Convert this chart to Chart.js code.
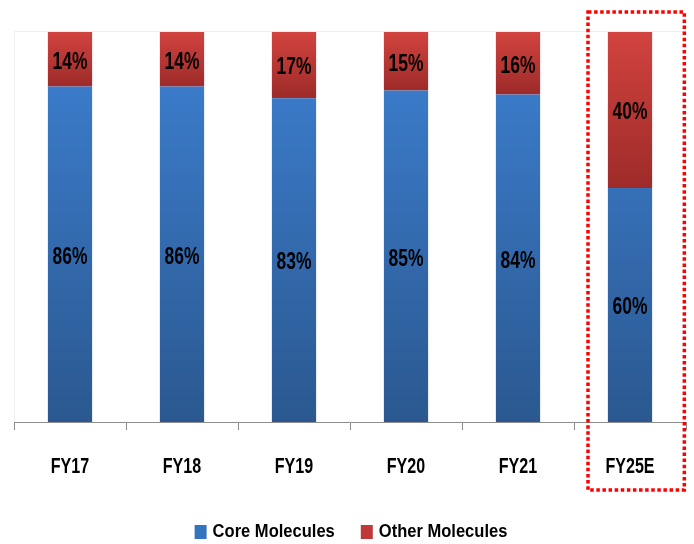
<!DOCTYPE html>
<html>
<head>
<meta charset="utf-8">
<script src="https://cdn.jsdelivr.net/npm/chart.js@4.4.1/dist/chart.umd.min.js"></script>
<style>
  html, body { margin: 0; padding: 0; background: #fff; }
  #wrap { width: 694px; height: 544px; }
</style>
</head>
<body>
<div id="wrap"><canvas id="molChart"></canvas></div>
<script>
// Share of revenue by molecule group, per fiscal year
const years = ['FY17', 'FY18', 'FY19', 'FY20', 'FY21', 'FY25E'];
const coreShare = [86, 86, 83, 85, 84, 60];
const otherShare = [14, 14, 17, 15, 16, 40];

const FONT = "'Liberation Sans', Arial, sans-serif";

// text squeezed horizontally, looks like a condensed face
function narrowText(ctx, text, x, y, font, sx, align) {
    ctx.save();
    ctx.font = font;
    ctx.fillStyle = '#000';
    ctx.textAlign = align || 'center';
    ctx.textBaseline = 'middle';
    ctx.translate(x, y);
    ctx.scale(sx, 1);
    ctx.fillText(text, 0, 0);
    ctx.restore();
}

function narrowWidth(ctx, text, font, sx) {
    ctx.save();
    ctx.font = font;
    const w = ctx.measureText(text).width * sx;
    ctx.restore();
    return w;
}

// vertical gradient for one segment of a stacked bar
function segGradient(ctx, top, bottom, light, dark) {
    const chart = ctx.chart;
    const yScale = chart.scales.y;
    if (!yScale) return light;
    const y0 = yScale.getPixelForValue(top);
    const y1 = yScale.getPixelForValue(bottom);
    if (!isFinite(y0) || !isFinite(y1) || y0 === y1) return light;
    const g = chart.ctx.createLinearGradient(0, y0, 0, y1);
    g.addColorStop(0, light);
    g.addColorStop(1, dark);
    return g;
}

// percentage labels in the middle of every segment
const segmentLabels = {
    id: 'segmentLabels',
    afterDatasetsDraw(chart) {
        chart.data.datasets.forEach((ds, i) => {
            chart.getDatasetMeta(i).data.forEach((bar, j) => {
                const mid = (bar.y + bar.base) / 2;
                narrowText(chart.ctx, ds.data[j] + '%', bar.x, mid + 3, 'bold 23px ' + FONT, 0.76);
            });
        });
    }
};

// category names under the axis
const yearLabels = {
    id: 'yearLabels',
    afterDraw(chart) {
        const x = chart.scales.x;
        years.forEach((yr, i) => {
            narrowText(chart.ctx, yr, x.getPixelForValue(i), chart.chartArea.bottom + 45, 'bold 22px ' + FONT, 0.73);
        });
    }
};

// legend row at the bottom
const bottomLegend = {
    id: 'bottomLegend',
    afterDraw(chart) {
        const ctx = chart.ctx;
        const font = 'bold 19px ' + FONT;
        const sx = 0.87;
        const cols = ['#3673be', '#c0393a'];
        const items = chart.data.datasets.map((ds, i) => ({
            text: ds.label,
            color: cols[i],
            w: narrowWidth(ctx, ds.label, font, sx)
        }));
        const box = 12, gap = 6, between = 26;
        let total = 0;
        items.forEach((it, i) => { total += box + gap + it.w + (i ? between : 0); });
        const a = chart.chartArea;
        let cx = (a.left + a.right) / 2 + 1 - total / 2;
        const cy = 532;
        items.forEach(it => {
            ctx.fillStyle = it.color;
            ctx.fillRect(cx, cy - 7, box, 14);
            cx += box + gap;
            narrowText(ctx, it.text, cx, cy, font, sx, 'left');
            cx += it.w + between;
        });
    }
};

// red dotted box around the estimate year
const estimateBox = {
    id: 'estimateBox',
    afterDraw(chart) {
        const x = chart.scales.x;
        const idx = years.length - 1;
        const cw = x.getPixelForValue(1) - x.getPixelForValue(0);
        const cx = x.getPixelForValue(idx);
        const a = chart.chartArea;
        const ctx = chart.ctx;
        ctx.save();
        ctx.strokeStyle = '#ff0000';
        ctx.lineWidth = 3.5;
        ctx.setLineDash([3.5, 2.6]);
        ctx.strokeRect(cx - cw * 0.375, a.top - 20, cw * 0.86, 478);
        ctx.restore();
    }
};

// faint frame around the plot area
const plotFrame = {
    id: 'plotFrame',
    beforeDatasetsDraw(chart) {
        const a = chart.chartArea;
        const ctx = chart.ctx;
        ctx.save();
        ctx.strokeStyle = '#eeeeee';
        ctx.lineWidth = 1;
        ctx.beginPath();
        ctx.moveTo(a.left + 0.5, a.bottom);
        ctx.lineTo(a.left + 0.5, a.top - 0.5);
        ctx.lineTo(a.right, a.top - 0.5);
        ctx.stroke();
        ctx.restore();
    }
};

new Chart(document.getElementById('molChart'), {
    type: 'bar',
    data: {
        labels: years,
        datasets: [
            {
                label: 'Core Molecules',
                data: coreShare,
                backgroundColor: c => segGradient(c, 100, 0, '#3d80d2', '#2b5890'),
                borderWidth: 0,
                barPercentage: 0.395,
                categoryPercentage: 1
            },
            {
                label: 'Other Molecules',
                data: otherShare,
                backgroundColor: c => {
                    const base = coreShare[c.dataIndex] || 0;
                    return segGradient(c, 100, base, '#d2433f', '#9d2b29');
                },
                borderWidth: 0,
                barPercentage: 0.395,
                categoryPercentage: 1
            }
        ]
    },
    options: {
        responsive: true,
        maintainAspectRatio: false,
        animation: false,
        layout: { padding: { left: 14, right: 8, top: 32, bottom: 114 } },
        plugins: {
            legend: { display: false },
            tooltip: { enabled: false }
        },
        scales: {
            x: {
                stacked: true,
                offset: true,
                border: { display: true, color: '#8c8c8c', width: 1 },
                grid: {
                    display: true,
                    offset: true,
                    drawOnChartArea: false,
                    drawTicks: true,
                    tickLength: 8,
                    color: '#8c8c8c'
                },
                ticks: { display: false }
            },
            y: {
                stacked: true,
                display: false,
                min: 0,
                max: 100
            }
        }
    },
    plugins: [plotFrame, segmentLabels, yearLabels, bottomLegend, estimateBox]
});
</script>
</body>
</html>
